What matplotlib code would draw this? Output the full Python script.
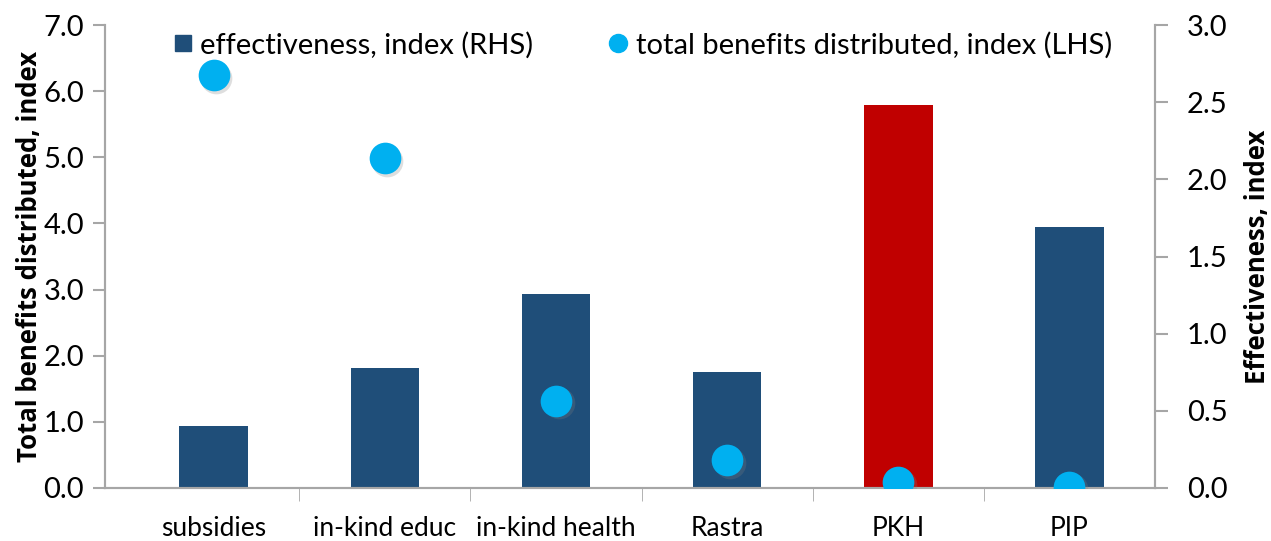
import matplotlib.pyplot as plt
from matplotlib.lines import Line2D
import numpy as np

plt.rcParams['font.family'] = ['Lato', 'DejaVu Sans']

categories = ['subsidies', 'in-kind educ', 'in-kind health', 'Rastra', 'PKH', 'PIP']
effectiveness = [0.40, 0.78, 1.26, 0.75, 2.48, 1.69]       # RHS, bars
benefits = [6.24, 4.99, 1.32, 0.42, 0.09, 0.02]            # LHS, dots
bar_colors = ['#1F4E79', '#1F4E79', '#1F4E79', '#1F4E79', '#C00000', '#1F4E79']

x = np.arange(len(categories))
grey = '#A6A6A6'

fig = plt.figure(figsize=(12.71, 5.41), dpi=100)
ax = fig.add_axes([105/1271, 53/541, 1050/1271, 463/541])
ax2 = ax.twinx()

ax2.bar(x, effectiveness, width=0.4, color=bar_colors, zorder=2)
# dots with a soft shadow, on the left axis
ax.scatter(x + 0.015, np.array(benefits) - 0.04, s=520, color='#7F7F7F', alpha=0.25, zorder=3, linewidths=0)
ax.scatter(x, benefits, s=520, color='#00B0F0', zorder=4, linewidths=0)
ax.set_zorder(ax2.get_zorder() + 1)
ax.patch.set_visible(False)

ax.set_xlim(-0.635, 5.5)
ax.set_ylim(0, 7)
ax2.set_ylim(0, 3)
ax.set_yticks(np.arange(0, 7.1, 1.0))
ax.set_yticklabels([f'{v:.1f}' for v in np.arange(0, 7.1, 1.0)])
ax2.set_yticks(np.arange(0, 3.01, 0.5))
ax2.set_yticklabels([f'{v:.1f}' for v in np.arange(0, 3.01, 0.5)])

ax.set_xticks(x)
ax.set_xticklabels(categories, fontsize=19)
ax.set_xticks(np.arange(0.5, 5.0, 1.0), minor=True)
ax.tick_params(axis='x', which='major', length=0, pad=20)
ax.tick_params(axis='x', which='minor', length=9, color=grey, direction='out')

for a in (ax, ax2):
    a.spines['top'].set_visible(False)
    for s in ('left', 'right', 'bottom'):
        a.spines[s].set_color(grey)
        a.spines[s].set_linewidth(1.5)
ax.tick_params(axis='y', labelsize=21, color=grey, length=9, width=1.5, pad=6)
ax2.tick_params(axis='y', labelsize=21, color=grey, length=9, width=1.5, pad=14)

ax.set_ylabel('Total benefits distributed, index', fontsize=18.5, fontweight='bold',
              family=['Open Sans', 'DejaVu Sans'])
ax.yaxis.set_label_coords(-0.059, 0.5)
ax2.set_ylabel('Effectiveness, index', fontsize=18.5, fontweight='bold',
               family=['Open Sans', 'DejaVu Sans'], labelpad=12)

handles = [
    Line2D([], [], marker='s', linestyle='none', color='#1F4E79', markersize=11),
    Line2D([], [], marker='o', linestyle='none', color='#00B0F0', markersize=13),
]
fig.legend(handles, ['effectiveness, index (RHS)', 'total benefits distributed, index (LHS)'],
           loc='center', bbox_to_anchor=(640/1271, 1 - 45/541), ncol=2, frameon=False,
           fontsize=21, handletextpad=0.1, columnspacing=2.4, handlelength=1.0)

fig.savefig('out.png', dpi=100)
